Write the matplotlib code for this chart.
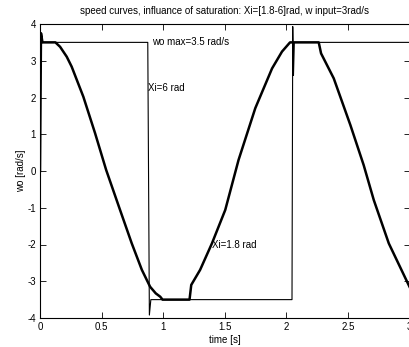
import matplotlib
matplotlib.use('Agg')
import matplotlib.pyplot as plt

# Xi = 1.8 rad (thick curve)
t_xi18 = [0, 0.008, 0.02, 0.125, 0.163, 0.217, 0.257, 0.352, 0.447, 0.537, 0.65,
          0.745, 0.827, 0.894, 0.94, 0.976, 0.995, 1.214, 1.228, 1.30, 1.396, 1.504,
          1.612, 1.748, 1.884, 1.965, 2.03, 2.263, 2.282, 2.385, 2.52, 2.628, 2.71,
          2.832, 3.0]
w_xi18 = [0, 3.75, 3.5, 3.5, 3.38, 3.11, 2.84, 2.02, 1.03, 0.03, -1.06,
          -1.97, -2.69, -3.15, -3.33, -3.42, -3.5, -3.5, -3.1, -2.69, -1.97, -1.06,
          0.30, 1.71, 2.79, 3.25, 3.5, 3.5, 3.2, 2.52, 1.25, 0.16, -0.79,
          -1.97, -3.15]

# Xi = 6 rad (thin curve)
t_xi6 = [0, 0.006, 0.012, 0.02, 0.875, 0.888, 0.9, 2.046, 2.052, 2.058, 2.065, 3.0]
w_xi6 = [0, 3.5, 3.7, 3.5, 3.5, -3.92, -3.5, -3.5, 3.93, 2.6, 3.5, 3.5]

xticks = [0, 0.5, 1, 1.5, 2, 2.5, 3]
yticks = [-4, -3, -2, -1, 0, 1, 2, 3, 4]

plt.rcParams['font.family'] = 'Liberation Sans'
plt.rcParams['font.size'] = 7
plt.rcParams['axes.unicode_minus'] = False

fig = plt.figure(figsize=(4.09, 3.47), dpi=100)
ax = fig.add_axes([40 / 409, 29 / 347, 369.5 / 409, 294 / 347])

ax.plot(t_xi6, w_xi6, color='black', linewidth=0.8)
ax.plot(t_xi18, w_xi18, color='black', linewidth=1.8)

ax.text(0.91, 3.52, 'wo max=3.5 rad/s', ha='left', va='center')
ax.text(0.876, 2.25, 'Xi=6 rad', ha='left', va='center')
ax.text(1.395, -2.01, 'Xi=1.8 rad', ha='left', va='center')

ax.set_xlim(0, 3)
ax.set_ylim(-4, 4)
ax.set_xticks(xticks)
ax.set_xticklabels(['0', '0.5', '1', '1.5', '2', '2.5', '3'])
ax.set_yticks(yticks)
ax.tick_params(direction='in', top=True, right=True, length=4, width=0.6, pad=3)
for s in ax.spines.values():
    s.set_linewidth(0.8)

ax.set_title('speed curves, influance of saturation: Xi=[1.8-6]rad, w input=3rad/s',
             fontsize=7, pad=7)
ax.set_xlabel('time [s]', labelpad=2)
ax.set_ylabel('wo [rad/s]', labelpad=1)

fig.savefig('out.png', dpi=100)
